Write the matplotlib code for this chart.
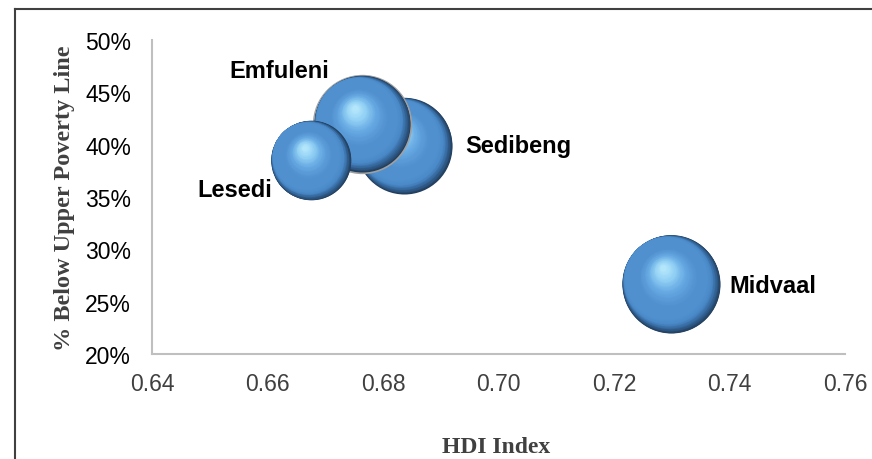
import matplotlib
matplotlib.use("Agg")
import matplotlib.pyplot as plt
import numpy as np
from matplotlib.colors import LinearSegmentedColormap
from matplotlib.lines import Line2D
from matplotlib.ticker import PercentFormatter, MultipleLocator, FormatStrFormatter
from matplotlib.transforms import offset_copy

# Sedibeng district and its local municipalities
names = ["Sedibeng", "Emfuleni", "Lesedi", "Midvaal"]
hdi = [0.6836, 0.6764, 0.6675, 0.7299]
below_upl = [0.399, 0.420, 0.385, 0.267]
bubble_size = [0.96, 0.96, 0.66, 1.00]

# label placement (offset in points from bubble centre, alignment)
label_offsets = [(44, 0, "left"), (-60, 38, "center"), (-28, -21, "right"), (42, -1, "left")]

GRID = "#BFBFBF"
TEXT = "#404040"

# sphere shading: shadowed rim (bottom-right) -> body, body -> specular spot
rim = LinearSegmentedColormap.from_list("rim", ["#233f5e", "#34669a", "#4a89c8", "#5090cf"])
spot = LinearSegmentedColormap.from_list("spot", ["#5090cf", "#67aae3", "#92d0f4", "#b3e6fb"])

fig = plt.figure(figsize=(8.72, 4.6), dpi=100)
ax = fig.add_axes([0.1743, 0.2283, 0.7947, 0.6826])

MAX_S = 4980  # marker area (pt^2) of the largest bubble
N_RIM = 25
N_SPOT = 30


def sphere(x, y, s0, z):
    r_pt = np.sqrt(s0) / 2
    for k in range(N_RIM):
        t = k / (N_RIM - 1)
        frac = 1 - 0.16 * t
        d = 0.16 * t * r_pt * 0.707
        tr = offset_copy(ax.transData, fig=fig, x=-d, y=d, units="points")
        ax.scatter([x], [y], s=s0 * frac ** 2, color=rim(t), linewidths=0,
                   transform=tr, zorder=z + 0.3 * t)
    for k in range(N_SPOT):
        t = k / (N_SPOT - 1)
        frac = 0.62 * (1 - 0.9 * t)
        tr = offset_copy(ax.transData, fig=fig,
                         x=-0.16 * r_pt * (0.4 + 0.6 * t),
                         y=0.32 * r_pt * (0.4 + 0.6 * t), units="points")
        ax.scatter([x], [y], s=s0 * frac ** 2, color=spot(t ** 1.3), linewidths=0,
                   transform=tr, zorder=z + 0.4 + 0.5 * t)


# draw order: Lesedi sits in front of Emfuleni, Emfuleni in front of Sedibeng
for i, (x, y, size) in enumerate(zip(hdi, below_upl, bubble_size)):
    s0 = MAX_S * size
    z = 10 + 3 * i
    if names[i] == "Emfuleni":
        # faint grey halo around this sphere
        ax.scatter([x], [y], s=s0 * 1.07, color="#a0a0a0", linewidths=0, zorder=z - 0.1)
    sphere(x, y, s0, z)

for name, x, y, (dx, dy, ha) in zip(names, hdi, below_upl, label_offsets):
    ax.annotate(name, (x, y), xytext=(dx, dy), textcoords="offset points",
                ha=ha, va="center", fontsize=17, fontweight="bold",
                family="Liberation Sans", color="black", zorder=50)

ax.set_xlim(0.64, 0.76)
ax.set_ylim(0.20, 0.50)
ax.xaxis.set_major_locator(MultipleLocator(0.02))
ax.yaxis.set_major_locator(MultipleLocator(0.05))
ax.xaxis.set_major_formatter(FormatStrFormatter("%.2f"))
ax.yaxis.set_major_formatter(PercentFormatter(1.0, decimals=0))

for side in ["top", "right"]:
    ax.spines[side].set_visible(False)
for side in ["left", "bottom"]:
    ax.spines[side].set_color(GRID)
    ax.spines[side].set_linewidth(1.5)
ax.tick_params(length=0)
ax.tick_params(axis="x", pad=13, labelsize=16.5, labelcolor=TEXT)
ax.tick_params(axis="y", pad=15, labelsize=16.5, labelcolor="black")
for lbl in ax.get_xticklabels() + ax.get_yticklabels():
    lbl.set_family("Liberation Sans")

fig.text(0.0745, 0.568, "% Below Upper Poverty Line", rotation=90,
         ha="center", va="center", fontsize=17.5, fontweight="bold",
         family="Liberation Serif", color=TEXT)
fig.text(0.569, 0.028, "HDI Index", ha="center", va="center",
         fontsize=17, fontweight="bold", family="Liberation Serif", color=TEXT)

# chart frame (runs off the right and bottom of the canvas)
fig.add_artist(Line2D([15 / 872, 15 / 872], [1 - 10 / 460, -0.1],
                      transform=fig.transFigure, color=TEXT, lw=1.5))
fig.add_artist(Line2D([15 / 872, 1.1], [1 - 10 / 460, 1 - 10 / 460],
                      transform=fig.transFigure, color=TEXT, lw=1.5))

fig.savefig("out.png", dpi=100)
